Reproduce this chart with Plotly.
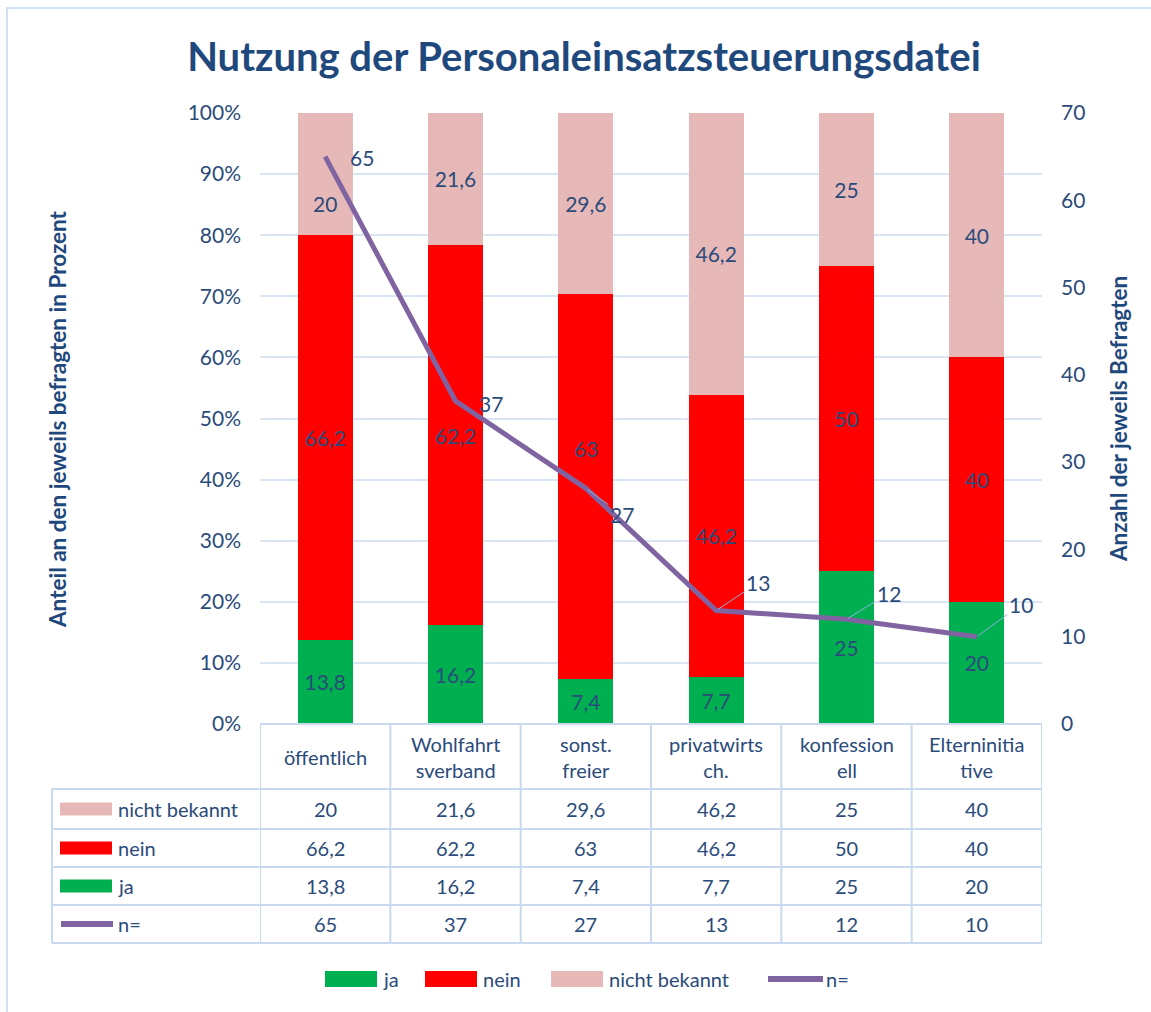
import plotly.graph_objects as go

# ---------------- data ----------------
categories = ["öffentlich", "Wohlfahrtsverband", "sonst. freier", "privatwirtsch.", "konfessionell", "Elterninitiative"]
header_labels = ["öffentlich", "Wohlfahrt<br>sverband", "sonst.<br>freier", "privatwirts<br>ch.", "konfession<br>ell", "Elterninitia<br>tive"]
ja = [13.8, 16.2, 7.4, 7.7, 25, 20]
nein = [66.2, 62.2, 63, 46.2, 50, 40]
nicht_bekannt = [20, 21.6, 29.6, 46.2, 25, 40]
n_befragte = [65, 37, 27, 13, 12, 10]
left_ticks = [0, 10, 20, 30, 40, 50, 60, 70, 80, 90, 100]
right_ticks = [0, 10, 20, 30, 40, 50, 60, 70]

# ---------------- style ----------------
W, H = 1151, 1012
ML, MR, MT, MB = 260, 109, 113, 288
PW, PH = W - ML - MR, H - MT - MB
C_JA, C_NEIN, C_NB, C_N = "#00B050", "#FF0000", "#E6B9B8", "#8064A2"
C_TXT, C_TITLE = "#2B4B7A", "#1F497D"
C_GRID, C_TBL = "#D9E5F3", "#C9D9EE"
FONT = "Lato"
FS_TBL = 20
FS_LBL = 21
# bar labels that were dragged away from the segment centre: (series index, category index) -> pixel shift
moved_labels = {(2, 0): -29, (1, 2): 38}


def px_x(p):
    return (p - ML) / PW


def px_y(p):
    return (H - MB - p) / PH


def fmt(v):
    return f"{v:g}".replace(".", ",")


fig = go.Figure()
ann = []

series = [("ja", ja, C_JA), ("nein", nein, C_NEIN), ("nicht bekannt", nicht_bekannt, C_NB)]
base = [0.0] * len(categories)
for s, (name, vals, col) in enumerate(series):
    txt = []
    for i, v in enumerate(vals):
        if (s, i) in moved_labels:
            txt.append("")
            ann.append(dict(x=categories[i], y=base[i] + v / 2, xref="x", yref="y",
                            text=fmt(v), showarrow=False, yshift=moved_labels[(s, i)],
                            xanchor="center", yanchor="middle",
                            font=dict(family=FONT, size=FS_LBL, color=C_TXT)))
        else:
            txt.append(fmt(v))
    fig.add_trace(go.Bar(
        x=categories, y=vals, name=name, marker=dict(color=col, line=dict(width=0)),
        width=0.42, text=txt, textposition="inside", insidetextanchor="middle",
        textangle=0, textfont=dict(family=FONT, size=FS_LBL, color=C_TXT),
        constraintext="none", hoverinfo="skip", showlegend=False,
    ))
    base = [b + v for b, v in zip(base, vals)]

fig.add_trace(go.Scatter(
    x=categories, y=n_befragte, yaxis="y2", mode="lines", name="n=",
    line=dict(color=C_N, width=5), hoverinfo="skip", showlegend=False,
))

# line labels
label_offsets = [(37, -1, False), (35, -2, False), (36, -26, True), (42, 28, True), (42, 26, True), (44, 32, True)]
for c, v, (dx, dy, arrow) in zip(categories, n_befragte, label_offsets):
    if arrow:
        ann.append(dict(x=c, y=v, xref="x", yref="y2", text=fmt(v), showarrow=True,
                        ax=dx, ay=-dy, arrowhead=0, arrowwidth=1, arrowcolor="#8DB3E2",
                        standoff=2, font=dict(family=FONT, size=FS_LBL, color=C_TXT)))
    else:
        ann.append(dict(x=c, y=v, xref="x", yref="y2", text=fmt(v), showarrow=False,
                        xshift=dx, yshift=dy, xanchor="center", yanchor="middle",
                        font=dict(family=FONT, size=FS_LBL, color=C_TXT)))

# axis titles
ann.append(dict(x=px_x(57), y=px_y(419), xref="paper", yref="paper", textangle=-90,
                xanchor="center", yanchor="middle",
                text="<b>Anteil an den jeweils befragten in Prozent</b>", showarrow=False,
                font=dict(family=FONT, size=22.5, color=C_TITLE)))
ann.append(dict(x=px_x(1118), y=px_y(419), xref="paper", yref="paper", textangle=-90,
                xanchor="center", yanchor="middle",
                text="<b>Anzahl der jeweils Befragten</b>", showarrow=False,
                font=dict(family=FONT, size=22.5, color=C_TITLE)))

# ---------------- data table ----------------
shapes = []
row_edges = [789, 829, 867, 905, 943]
header_top = H - MB
tbl_left = 52
line_style = dict(color=C_TBL, width=2)

shapes.append(dict(type="line", xref="paper", yref="paper", x0=0, x1=1,
                   y0=px_y(header_top), y1=px_y(header_top), line=line_style))
for r in row_edges:
    shapes.append(dict(type="line", xref="paper", yref="paper", x0=px_x(tbl_left), x1=1,
                       y0=px_y(r), y1=px_y(r), line=line_style))
for i in range(len(categories) + 1):
    shapes.append(dict(type="line", xref="x", yref="paper", x0=i - 0.5, x1=i - 0.5,
                       y0=px_y(header_top), y1=px_y(row_edges[-1]), line=line_style))
shapes.append(dict(type="line", xref="paper", yref="paper", x0=px_x(tbl_left), x1=px_x(tbl_left),
                   y0=px_y(row_edges[0]), y1=px_y(row_edges[-1]), line=line_style))

for c, h in zip(categories, header_labels):
    ann.append(dict(x=c, y=px_y((header_top + row_edges[0]) / 2), xref="x", yref="paper",
                    xanchor="center", yanchor="middle",
                    text=h, showarrow=False, font=dict(family=FONT, size=FS_TBL, color=C_TXT)))

rows = [("nicht bekannt", nicht_bekannt, C_NB, "bar"),
        ("nein", nein, C_NEIN, "bar"),
        ("ja", ja, C_JA, "bar"),
        ("n=", n_befragte, C_N, "line")]
for k, (name, vals, col, kind) in enumerate(rows):
    yc = px_y((row_edges[k] + row_edges[k + 1]) / 2)
    if kind == "bar":
        shapes.append(dict(type="rect", xref="paper", yref="paper", x0=px_x(60), x1=px_x(112),
                           y0=yc - 6.5 / PH, y1=yc + 6.5 / PH, fillcolor=col, line=dict(width=0)))
    else:
        shapes.append(dict(type="line", xref="paper", yref="paper", x0=px_x(61), x1=px_x(113),
                           y0=yc, y1=yc, line=dict(color=col, width=6)))
    ann.append(dict(x=px_x(116), y=yc, xref="paper", yref="paper", xanchor="left", yanchor="middle",
                    text=name, showarrow=False, font=dict(family=FONT, size=FS_TBL, color=C_TXT)))
    for c, v in zip(categories, vals):
        ann.append(dict(x=c, y=yc, xref="x", yref="paper", text=fmt(v), showarrow=False,
                        xanchor="center", yanchor="middle",
                        font=dict(family=FONT, size=FS_TBL, color=C_TXT)))

# ---------------- bottom legend ----------------
leg_y = px_y(979)
legend_items = [("ja", C_JA, "bar", 325, 377, 381),
                ("nein", C_NEIN, "bar", 425, 477, 481),
                ("nicht bekannt", C_NB, "bar", 551, 603, 607),
                ("n=", C_N, "line", 768, 823, 824)]
for name, col, kind, x0, x1, xt in legend_items:
    if kind == "bar":
        shapes.append(dict(type="rect", xref="paper", yref="paper", x0=px_x(x0), x1=px_x(x1),
                           y0=leg_y - 8 / PH, y1=leg_y + 8 / PH, fillcolor=col, line=dict(width=0)))
    else:
        shapes.append(dict(type="line", xref="paper", yref="paper", x0=px_x(x0), x1=px_x(x1),
                           y0=leg_y, y1=leg_y, line=dict(color=col, width=6)))
    ann.append(dict(x=px_x(xt), y=leg_y, xref="paper", yref="paper", xanchor="left", yanchor="middle",
                    text=name, showarrow=False, font=dict(family=FONT, size=FS_TBL, color=C_TXT)))

# outer chart border
shapes.append(dict(type="rect", xref="paper", yref="paper", x0=px_x(7), x1=px_x(1170),
                   y0=px_y(1030), y1=px_y(8), line=dict(color="#D3E1F3", width=2), layer="below"))

fig.update_layout(
    width=W, height=H, barmode="stack", bargap=0.58,
    margin=dict(l=ML, r=MR, t=MT, b=MB, autoexpand=False),
    paper_bgcolor="white", plot_bgcolor="white",
    separators=",.",
    title=dict(text="<b>Nutzung der Personaleinsatzsteuerungsdatei</b>", xref="container", yref="container",
               x=584 / W, y=1 - 57 / H, xanchor="center", yanchor="middle",
               font=dict(family=FONT, size=40, color=C_TITLE)),
    xaxis=dict(range=[-0.5, len(categories) - 0.5], showticklabels=False, showgrid=False,
               zeroline=False, showline=False, ticks=""),
    yaxis=dict(range=[0, 100], tickvals=left_ticks, ticktext=[f"{t}%" for t in left_ticks],
               showgrid=True, gridcolor=C_GRID, gridwidth=1.5, zeroline=False, showline=False,
               ticks="", ticklabelstandoff=18, tickfont=dict(family=FONT, size=FS_LBL, color=C_TXT)),
    yaxis2=dict(range=[0, 70], tickvals=right_ticks, overlaying="y", side="right", showgrid=False,
                zeroline=False, showline=False, ticks="", ticklabelstandoff=18,
                tickfont=dict(family=FONT, size=FS_LBL, color=C_TXT)),
    showlegend=False,
    annotations=ann, shapes=shapes,
)

fig.write_html("out.html", config={"displayModeBar": False},
               post_script="document.body.style.margin='0';")
